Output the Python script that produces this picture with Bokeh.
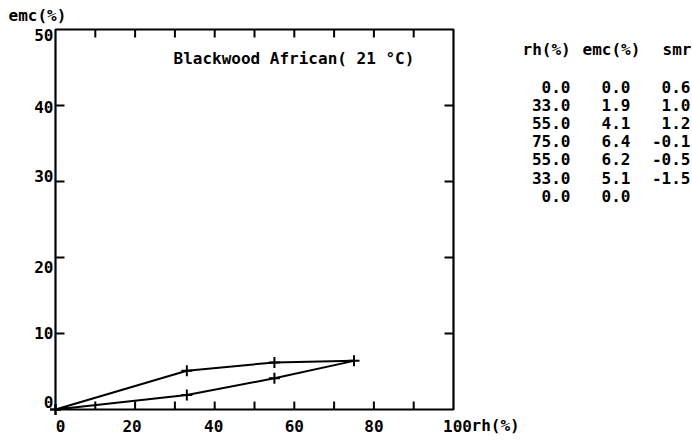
from bokeh.plotting import figure
from bokeh.models import Range1d, ColumnDataSource
from bokeh.embed import file_html
from bokeh.resources import INLINE

# sorption loop: relative humidity vs equilibrium moisture content
rh = [0.0, 33.0, 55.0, 75.0, 55.0, 33.0, 0.0]
emc = [0.0, 1.9, 4.1, 6.4, 6.2, 5.1, 0.0]
smr = ["0.6", "1.0", "1.2", "-0.1", "-0.5", "-1.5", ""]

x_ticks = [10, 20, 30, 40, 50, 60, 70, 80, 90]
x_label_values = [0, 20, 40, 60, 80, 100]
y_ticks = [10, 20, 30, 40]
y_label_values = [0, 10, 20, 30, 40, 50]

title_text = "Blackwood African( 21 \u00b0C)"
x_title = "rh(%)"
y_title = "emc(%)"
table_header = ["rh(%)", "emc(%)", "smr"]

X_MAX, Y_MAX = 100, 50
FONT = "DejaVu Sans Mono"
FS = "16px"

# canvas and plot-box geometry (pixels)
W, H = 692, 442
BOX_L, BOX_R, BOX_T, BOX_B = 55, 453, 29, 409
sx = (BOX_R - BOX_L) / X_MAX          # px per rh unit
sy = (BOX_B - BOX_T) / Y_MAX          # px per emc unit
x_range = Range1d(-BOX_L / sx, X_MAX + (W - BOX_R) / sx)
y_range = Range1d(-(H - BOX_B) / sy, Y_MAX + BOX_T / sy)

p = figure(width=W, height=H, output_backend="svg", toolbar_location=None,
           x_range=x_range, y_range=y_range, title=None,
           x_axis_location=None, y_axis_location=None,
           min_border=0)
p.grid.visible = False
p.outline_line_color = None
p.background_fill_color = "white"
p.border_fill_color = "white"


def px_x(px):
    return (px - BOX_L) / sx


def px_y(py):
    return (BOX_B - py) / sy


# plot box
p.line([0, X_MAX, X_MAX, 0, 0], [0, 0, Y_MAX, Y_MAX, 0],
       line_color="black", line_width=2.2)

# inward ticks on all four sides
tick_x = 9 / sx
tick_y = 8 / sy
nx, ny = len(x_ticks), len(y_ticks)
p.segment(x0=x_ticks, y0=[0] * nx, x1=x_ticks, y1=[tick_y] * nx,
          line_color="black", line_width=2)
p.segment(x0=x_ticks, y0=[Y_MAX] * nx, x1=x_ticks, y1=[Y_MAX - tick_y] * nx,
          line_color="black", line_width=2)
p.segment(x0=[0] * ny, y0=y_ticks, x1=[tick_x] * ny, y1=y_ticks,
          line_color="black", line_width=2)
p.segment(x0=[X_MAX] * ny, y0=y_ticks, x1=[X_MAX - tick_x] * ny, y1=y_ticks,
          line_color="black", line_width=2)

# hysteresis loop with point markers
p.line(rh, emc, line_color="black", line_width=2)
p.scatter(rh, emc, marker="cross", size=11, line_color="black", line_width=2)


def add_text(x, y, texts, align="left", x_off=None, y_off=None):
    n = len(texts)
    xo = x_off if x_off is not None else [0] * n
    yo = y_off if y_off is not None else [0] * n
    src = ColumnDataSource(dict(x=list(x), y=list(y), text=list(texts),
                                xo=list(xo), yo=list(yo)))
    p.text(x="x", y="y", text="text", x_offset="xo", y_offset="yo", source=src,
           text_font={"value": FONT}, text_font_size={"value": FS},
           text_font_style="bold", text_color="black",
           text_align=align, text_baseline="middle")


# x tick labels below the box
add_text(x_label_values, [0] * len(x_label_values),
         [str(v) for v in x_label_values], align="center",
         x_off=[5, -3, -1, 0, 0, 4], y_off=[16] * len(x_label_values))
add_text([X_MAX], [0], [x_title], x_off=[18], y_off=[16])

# y tick labels left of the box
add_text([0] * len(y_label_values), y_label_values,
         [str(v) for v in y_label_values], align="right",
         x_off=[-2] * len(y_label_values), y_off=[-8, -1, 9, -6, 1, 5])
add_text([px_x(8)], [Y_MAX], [y_title], y_off=[-14])

# title inside the box
add_text([px_x(173)], [px_y(58)], [title_text])

# data table
add_text([px_x(522), px_x(582), px_x(662)], [px_y(49)] * 3, table_header)
row_y = [px_y(86 + 18.2 * i) for i in range(len(rh))]
add_text([px_x(570)] * len(rh), row_y, [f"{v:.1f}" for v in rh], align="right")
add_text([px_x(630)] * len(emc), row_y, [f"{v:.1f}" for v in emc], align="right")
add_text([px_x(690)] * len(smr), row_y, smr, align="right")

open("out.html", "w").write(file_html(p, INLINE))
